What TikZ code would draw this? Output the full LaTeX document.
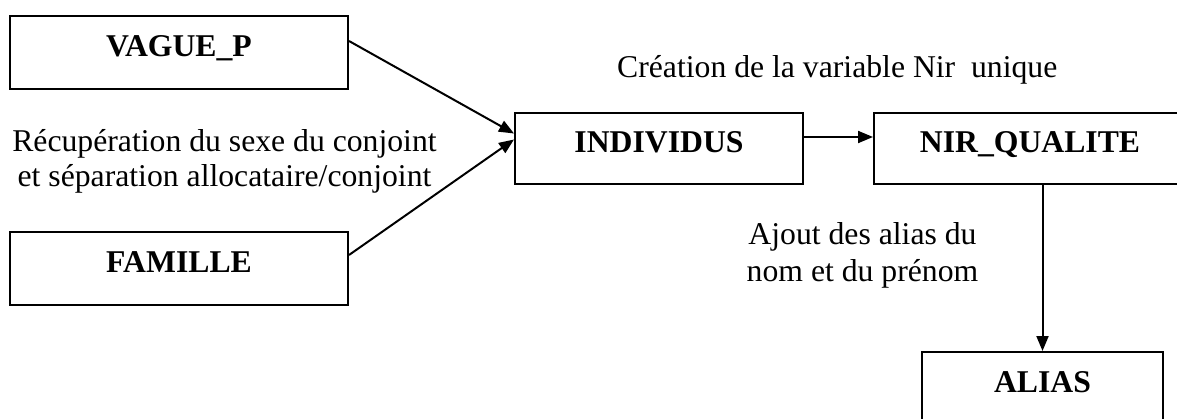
\documentclass[tikz,border=0pt]{standalone}
\usepackage{fontspec}
\setmainfont{Liberation Serif}
\usetikzlibrary{arrows.meta}
\begin{document}
\begin{tikzpicture}[x=1pt,y=-1pt,
  box/.style={draw,line width=2pt,inner xsep=0pt,inner ysep=0pt,
    font=\fontsize{31.7}{35}\selectfont\bfseries},
  lbl/.style={font=\fontsize{31.7}{35}\selectfont,inner sep=0pt,align=center},
  conn/.style={line width=2pt,-{Triangle[length=15pt,width=12pt]}}]
\useasboundingbox (0,0) rectangle (1177,419);
\clip (0,0) rectangle (1177,419);
% boxes
\node[box,minimum width=338pt,text height=41pt,text depth=32pt,anchor=base] (vague) at (179,57) {VAGUE\_P};
\node[box,minimum width=338pt,text height=41pt,text depth=32pt,anchor=base] (famille) at (179,273) {FAMILLE};
\node[box,minimum width=288pt,text height=40pt,text depth=31pt,anchor=base] (individus) at (659,153) {INDIVIDUS};
\node[box,minimum width=312pt,text height=40pt,text depth=31pt,anchor=base] (nir) at (1030,153) {NIR\_QUALITE};
\node[box,minimum width=241pt,text height=40pt,text depth=32pt,anchor=base] (alias) at (1042.5,392) {ALIAS};
% labels
\node[lbl,anchor=base west] (creation) at (617,78) {Création de la variable Nir\ \ unique};
\node[lbl,anchor=base] (recup) at (224.5,187) {Récupération du sexe du conjoint\\et séparation allocataire/conjoint};
\node[lbl,anchor=base,font=\fontsize{31.7}{37}\selectfont] (ajout) at (862.5,282) {Ajout des alias du\\nom et du prénom};
% connectors
\draw[conn] ([yshift=11.5pt]vague.east) -- ([yshift=15pt]individus.west);
\draw[conn] ([yshift=13.5pt]famille.east) -- ([yshift=9pt]individus.west);
\draw[conn] ([yshift=11.5pt]individus.east) -- ([yshift=11.5pt]nir.west);
\draw[conn] (alias.north |- nir.south) -- (alias.north);
\end{tikzpicture}
\end{document}
